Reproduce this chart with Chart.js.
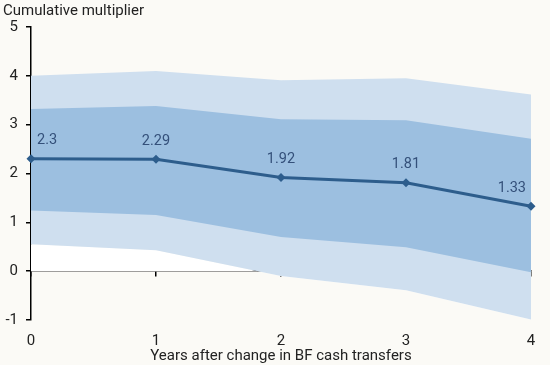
<!DOCTYPE html>
<html>
<head>
<meta charset="utf-8">
<script src="https://cdn.jsdelivr.net/npm/chart.js@4.4.1/dist/chart.umd.min.js"></script>
<style>
  html, body { margin:0; padding:0; background:#fbfaf6; }
  #myChart { display:block; }
</style>
</head>
<body>
<canvas id="myChart" width="550" height="365"></canvas>
<script>
// years after the change
var years = [0, 1, 2, 3, 4];
// point estimate
var multiplier = [2.3, 2.29, 1.92, 1.81, 1.33];
// confidence bands
var innerHigh = [3.32, 3.38, 3.11, 3.09, 2.71];
var innerLow  = [1.24, 1.15, 0.70, 0.49, -0.02];
var outerHigh = [4.0, 4.1, 3.91, 3.95, 3.62];
var outerLow  = [0.55, 0.43, -0.10, -0.39, -0.99];
var yTicks = [-1, 0, 1, 2, 3, 4, 5];

function pts(arr){
  return years.map(function(x, i){ return {x: x, y: arr[i]}; });
}

// value labels above the points
var pointLabels = {
  id: 'pointLabels',
  afterDatasetsDraw: function(chart){
    var ctx = chart.ctx;
    var meta = chart.getDatasetMeta(0);
    ctx.save();
    ctx.font = '14.5px Roboto';
    ctx.fillStyle = '#34507a';
    ctx.textBaseline = 'middle';
    meta.data.forEach(function(p, i){
      var x = p.x;
      if (i == 0) { ctx.textAlign = 'left'; x = p.x + 6; }
      else if (i == meta.data.length - 1) { ctx.textAlign = 'right'; x = p.x - 5; }
      else { ctx.textAlign = 'center'; }
      ctx.fillText(String(multiplier[i]), x, p.y - 18);
    });
    ctx.restore();
  }
};

var myChart = document.getElementById('myChart').getContext('2d');
var chart = new Chart(myChart, {
  type: 'line',
  data: {
    datasets: [{
      label: 'multiplier',
      data: pts(multiplier),
      borderColor: '#2d5d8c',
      backgroundColor: '#2d5d8c',
      borderWidth: 3,
      pointStyle: 'rectRot',
      pointRadius: 4.5,
      pointBorderWidth: 0,
      fill: false,
      clip: false,
      order: 0
    }, {
      label: 'innerHigh',
      data: pts(innerHigh),
      borderWidth: 0,
      pointRadius: 0,
      backgroundColor: '#9cbfe0',
      fill: 2,
      order: 1
    }, {
      label: 'innerLow',
      data: pts(innerLow),
      borderWidth: 0,
      pointRadius: 0,
      fill: false,
      order: 2
    }, {
      label: 'outerHigh',
      data: pts(outerHigh),
      borderWidth: 0,
      pointRadius: 0,
      backgroundColor: '#cfdfef',
      fill: 4,
      order: 3
    }, {
      label: 'outerLow',
      data: pts(outerLow),
      borderWidth: 0,
      pointRadius: 0,
      backgroundColor: '#ffffff',
      fill: 'origin',
      order: 4
    }]
  },
  options: {
    responsive: false,
    animation: false,
    events: [],
    layout: { padding: { left: 3, right: 19, top: 0, bottom: 0 } },
    plugins: {
      legend: { display: false },
      tooltip: { enabled: false },
      title: {
        display: true,
        text: 'Cumulative multiplier',
        align: 'start',
        color: '#222',
        font: { family: 'Roboto', size: 15, weight: 'normal', lineHeight: 1.2 },
        padding: { top: 2, bottom: 7 }
      }
    },
    scales: {
      x: {
        type: 'linear',
        position: 'bottom',
        min: 0, max: 4,
        grid: { display: false, drawTicks: false },
        border: { display: false },
        ticks: {
          stepSize: 1,
          color: '#222',
          font: { family: 'Roboto', size: 15 },
          padding: 12
        },
        title: {
          display: true,
          text: 'Years after change in BF cash transfers',
          color: '#222',
          font: { family: 'Roboto', size: 15 },
          padding: { top: 0, bottom: 0 }
        },
        afterFit: function(s){ s.height = 45; }
      },
      x2: {
        type: 'linear',
        axis: 'x',
        position: { y: 0 },
        min: 0, max: 4,
        z: 1,
        grid: { drawOnChartArea: false, drawTicks: true, tickLength: 5, color: '#000', lineWidth: 1.5 },
        border: { color: '#000', width: 1.5 },
        ticks: { stepSize: 1, display: false }
      },
      y: {
        min: -1, max: 5,
        afterBuildTicks: function(s){ s.ticks = yTicks.map(function(v){ return {value: v}; }); },
        grid: { drawOnChartArea: false, drawTicks: true, tickLength: 5, color: '#000', lineWidth: 1.5 },
        border: { color: '#000', width: 1.5 },
        ticks: {
          color: '#222',
          font: { family: 'Roboto', size: 15 },
          padding: 8
        },
        afterFit: function(s){ s.width = 28; }
      }
    }
  },
  plugins: [pointLabels]
});
</script>
</body>
</html>
